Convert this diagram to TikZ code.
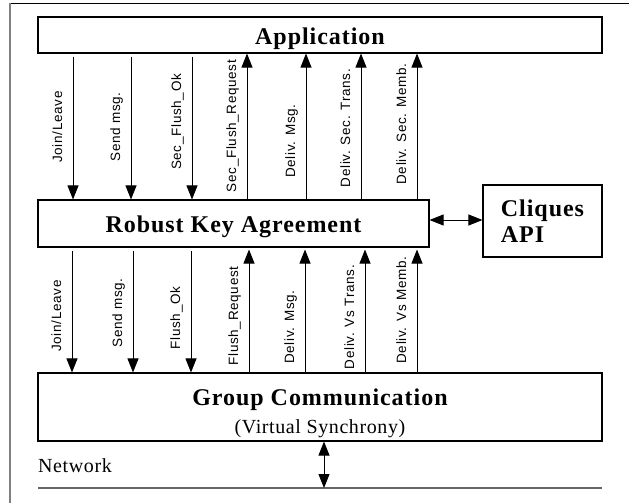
\documentclass[tikz,border=0pt]{standalone}
\usepackage{fontspec}
\setmainfont{Liberation Serif}
\newfontfamily\titlefont[LetterSpace=4]{Liberation Serif}
\newfontfamily\lblfont[LetterSpace=5]{Liberation Sans}
\newfontfamily\smallfont[LetterSpace=3]{Liberation Serif}
\usetikzlibrary{arrows.meta}

\tikzset{
  layer/.style={draw, rectangle, line width=1.1pt, inner sep=0pt,
    font=\titlefont\bfseries\fontsize{24}{27}\selectfont},
  sig/.style={-{Triangle[width=11pt,length=14pt]}, line width=0.9pt},
  twoway/.style={{Triangle[width=11pt,length=14pt]}-{Triangle[width=11pt,length=14pt]}, line width=0.9pt},
  sigtext/.style={rotate=90, anchor=base, inner sep=0pt,
    font=\lblfont\fontsize{13.5}{15}\selectfont},
}

\begin{document}
\begin{tikzpicture}[x=1pt, y=-1pt]
\useasboundingbox (0,0) rectangle (629,503);
% page frame
\draw[line width=1.2pt] (10,3.5) -- (629,3.5);
\draw[gray, line width=2pt] (10,3) -- (10,503);

% layers
\node at (320,35) [layer, minimum width=564pt, minimum height=36pt, text height=20pt, text depth=0pt] (app) {Application};
\node at (233.5,223.5) [layer, minimum width=391pt, minimum height=47pt, text height=18pt, text depth=0pt] (rka) {Robust Key Agreement};
\node at (542.5,221) [layer, minimum width=119pt, minimum height=72pt, align=left] (api) {Cliques\\[-1pt]API};
\node at (320,407) [layer, minimum width=564pt, minimum height=68pt, align=center] (gcs)
  {\rule{0pt}{30pt}Group Communication\\[1pt]{\smallfont\mdseries\fontsize{20}{22}\selectfont (Virtual Synchrony)}};

% network
\node at (38,472) [anchor=base west, inner sep=0pt, font=\smallfont\fontsize{20}{22}\selectfont] (net) {Network};
\coordinate (netL) at (38,488);
\coordinate (netR) at (602,488);
\draw[gray!80!black, line width=1.3pt] (netL) -- (netR);
\draw[twoway] (gcs.south -| 324,0) -- (netL -| 324,0);

% key agreement <-> cliques
\draw[twoway] (rka.east |- 0,220) -- (api.west |- 0,220);

% application <-> key agreement
\foreach \x/\yc/\txt in {73/127/{Join/Leave}, 131/127/{Send msg.}, 192/122/{Sec\_Flush\_Ok}}{
  \draw[sig, shorten <=3pt] (app.south -| \x,0) -- (rka.north -| \x,0);
  \node at (\x-11,\yc) [sigtext] (ua\x) {\txt};
}
\foreach \x/\yc/\txt in {247/126/{Sec\_Flush\_Request}, 306/141/{Deliv. Msg.}, 361/128/{Deliv. Sec. Trans.}, 417/124/{Deliv. Sec. Memb.}}{
  \draw[sig] (rka.north -| \x,0) -- (app.south -| \x,0);
  \node at (\x-11,\yc) [sigtext] (ua\x) {\txt};
}

% key agreement <-> group communication
\foreach \x/\yc/\txt in {72/316/{Join/Leave}, 133/313/{Send msg.}, 191/318/{Flush\_Ok}}{
  \draw[sig, shorten <=3pt] (rka.south -| \x,0) -- (gcs.north -| \x,0);
  \node at (\x-11,\yc) [sigtext] (lo\x) {\txt};
}
\foreach \x/\yc/\txt in {249/316/{Flush\_Request}, 305/327/{Deliv. Msg.}, 365/317/{Deliv. Vs Trans.}, 417/310/{Deliv. Vs Memb.}}{
  \draw[sig, shorten >=2pt] (gcs.north -| \x,0) -- (rka.south -| \x,0);
  \node at (\x-11,\yc) [sigtext] (lo\x) {\txt};
}
\end{tikzpicture}
\end{document}
